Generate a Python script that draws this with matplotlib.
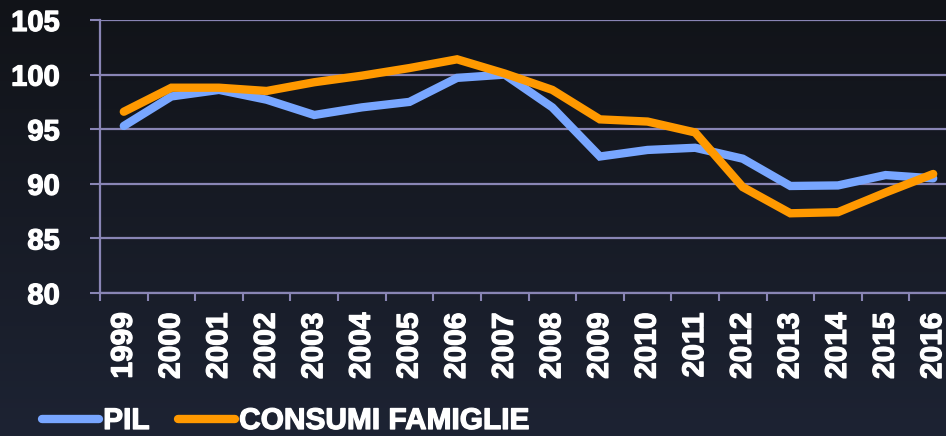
import numpy as np
import matplotlib.pyplot as plt
import matplotlib.patheffects as pe
from matplotlib.colors import LinearSegmentedColormap

years = [str(y) for y in range(1999, 2017)]
pil = [95.3, 98.0, 98.6, 97.7, 96.3, 97.0, 97.5, 99.7, 100.0, 97.0,
       92.5, 93.1, 93.3, 92.3, 89.8, 89.85, 90.8, 90.5]
consumi = [96.6, 98.8, 98.8, 98.5, 99.3, 99.9, 100.6, 101.4, 100.1, 98.6,
           95.9, 95.7, 94.7, 89.7, 87.3, 87.4, 89.2, 90.9]

plt.rcParams['font.family'] = ['Liberation Sans', 'DejaVu Sans']
plt.rcParams['font.weight'] = 'bold'

grid_col = "#8985b5"
W, H = 946, 436
fig = plt.figure(figsize=(W / 100, H / 100), dpi=100)

# sfondo sfumato scuro
bg = fig.add_axes([0, 0, 1, 1], zorder=-10)
grad = np.linspace(0, 1, 256).reshape(-1, 1)
cmap = LinearSegmentedColormap.from_list("bg", ["#111318", "#1d2333"])
bg.imshow(grad, aspect="auto", cmap=cmap, extent=[0, 1, 0, 1], origin="upper")
bg.axis("off")

ax = fig.add_axes([100 / W, 1 - 293 / H, 857 / W, 273 / H])
ax.patch.set_alpha(0)

x = np.arange(len(years))
ax.plot(x, pil, color="#78a6ff", lw=6, label="PIL", solid_capstyle="round",
        solid_joinstyle="miter", zorder=3)
ax.plot(x, consumi, color="#ff9900", lw=6, label="CONSUMI FAMIGLIE",
        solid_capstyle="round", solid_joinstyle="miter", zorder=4)

ax.set_xlim(-0.5, len(years) - 0.5)
ax.set_ylim(80, 105)
ax.set_yticks(range(80, 106, 5))
ax.grid(axis="y", color=grid_col, lw=1.6)
ax.set_axisbelow(True)

heavy = [pe.withStroke(linewidth=0.9, foreground="white")]

ax.set_xticks(np.arange(len(years) + 1) - 0.5)
ax.set_xticklabels([])
ax.set_xticks(x, minor=True)
ax.set_xticklabels(years, minor=True, rotation=90, fontsize=21.5,
                   fontweight="bold", color="white")
ax.tick_params(axis="x", which="major", length=6, width=1.5, color=grid_col)
ax.tick_params(axis="x", which="minor", length=0, pad=14)
ax.tick_params(axis="y", length=7, width=1.5, color=grid_col, pad=22,
               labelsize=21, labelcolor="white")
for lbl in ax.get_yticklabels() + ax.get_xticklabels(minor=True):
    lbl.set_fontweight("bold")
    lbl.set_path_effects(heavy)

for s in ["top", "right"]:
    ax.spines[s].set_visible(False)
for s in ["left", "bottom"]:
    ax.spines[s].set_color(grid_col)
    ax.spines[s].set_linewidth(1.6)

leg = fig.legend(loc="center left", bbox_to_anchor=(30 / W, 1 - 421 / H),
                 ncol=2, frameon=False, fontsize=21.5, handlelength=1.9,
                 handletextpad=0.15, columnspacing=0.95, borderaxespad=0)
for t in leg.get_texts():
    t.set_color("white")
    t.set_fontweight("bold")
    t.set_path_effects(heavy)

fig.savefig("out.png", dpi=100)
